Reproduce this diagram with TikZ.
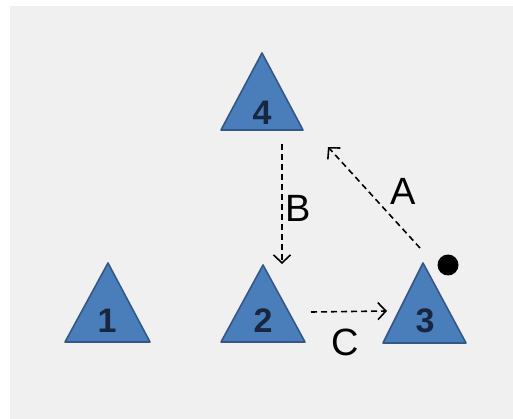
\documentclass[tikz,border=0pt]{standalone}
\usepackage{fontspec}
\setmainfont{Liberation Sans}
\usetikzlibrary{arrows.meta}

\definecolor{panelgray}{RGB}{240,240,240}
\definecolor{triblue}{RGB}{74,126,187}
\definecolor{triedge}{RGB}{52,88,134}
\definecolor{numnavy}{RGB}{24,38,64}

\tikzset{
    tri/.style={fill=triblue, draw=triedge, line width=1.6pt, line join=round},
    num/.style={text=numnavy, font=\fontsize{34}{34}\selectfont\bfseries},
    move/.style={dashed, dash pattern=on 6pt off 4pt, line width=1.6pt,
        -{Straight Barb[length=8pt,width=17pt,line width=1.6pt]}},
    letter/.style={font=\fontsize{38}{38}\selectfont}
}

\begin{document}
\begin{tikzpicture}[x=1pt, y=-1pt]
    \useasboundingbox (0,0) rectangle (513,419);
    % background panel
    \fill[panelgray] (10,6) rectangle (513,419);

    % triangles
    \draw[tri] (262,53) -- (303,130) -- (221,130) -- cycle;
    \node[num] (n4) at (262,113) {4};

    \draw[tri] (108,263) -- (150,342) -- (65,342) -- cycle;
    \node[num] (n1) at (107,321) {1};

    \draw[tri] (263,265) -- (305,342) -- (221,342) -- cycle;
    \node[num] (n2) at (263,321) {2};

    \draw[tri] (423,263) -- (466,343) -- (383,343) -- cycle;
    \node[num] (n3) at (425,321) {3};

    % arrow end points
    \coordinate (bTop) at (282,144);
    \coordinate (bTip) at (282,264);
    \coordinate (aStart) at (420,248);
    \coordinate (aTip) at (328,147);
    \coordinate (cStart) at (311,312);
    \coordinate (cTip) at (387,311);

    \draw[move] (bTop) -- (bTip);
    \draw[move] (aStart) -- (aTip);
    \draw[move] (cStart) -- (cTip);

    % labels
    \node[letter] (labA) at (403,191) {A};
    \node[letter] (labB) at (298,208) {B};
    \node[letter] (labC) at (345,342) {C};

    % marker
    \fill (448,265) circle (10.5);
\end{tikzpicture}
\end{document}
